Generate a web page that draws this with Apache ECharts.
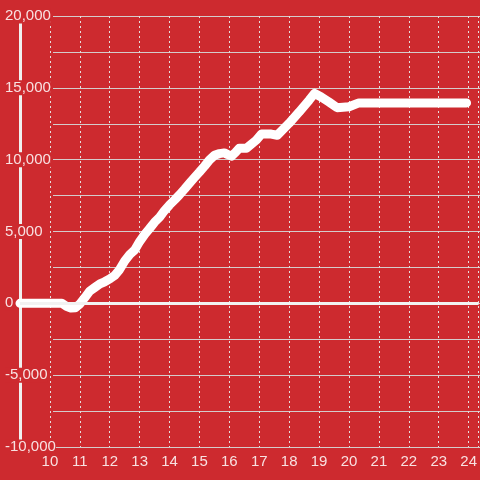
<!DOCTYPE html>
<html><head><meta charset="utf-8">
<script src="https://cdn.jsdelivr.net/npm/echarts@6/dist/echarts.min.js"></script>
<style>html,body{margin:0;padding:0;background:#cd2a2f}#c{width:480px;height:480px}</style>
</head><body><div id="c"></div>
<script>
const hours = [9, 10, 10.4, 10.55, 10.7, 10.85, 11, 11.17, 11.33, 11.5, 11.67, 11.83, 12, 12.17, 12.33, 12.5, 12.67, 12.83, 13, 13.17, 13.33, 13.5, 13.67, 13.83, 14, 14.17, 14.33, 14.5, 14.67, 14.83, 15, 15.17, 15.33, 15.5, 15.67, 15.83, 15.95, 16.07, 16.2, 16.33, 16.57, 16.9, 17.07, 17.4, 17.6, 18, 18.33, 18.67, 18.85, 19.07, 19.33, 19.6, 20, 20.33, 23.93];
const values = [0, 0, 0, -200, -320, -300, -50, 400, 850, 1100, 1350, 1500, 1700, 1950, 2350, 2950, 3400, 3700, 4300, 4800, 5200, 5650, 6000, 6450, 6850, 7200, 7550, 7950, 8370, 8750, 9140, 9550, 9970, 10300, 10420, 10470, 10350, 10250, 10500, 10800, 10800, 11360, 11780, 11780, 11700, 12540, 13310, 14150, 14620, 14360, 14010, 13620, 13680, 13950, 13950];
const xTicks = [10, 11, 12, 13, 14, 15, 16, 17, 18, 19, 20, 21, 22, 23, 24];
const yMin = -10000, yMax = 20000;

const data = hours.map((h, i) => [h, values[i]]);
const txt = 'rgba(255,255,255,0.86)';
const font = 'Liberation Sans, Arial, sans-serif';
const chart = echarts.init(document.getElementById('c'), null, {renderer: 'canvas'});
chart.setOption({
  backgroundColor: '#cd2a2f',
  animation: false,
  grid: [
    {left: 53, right: 0, top: 16, bottom: 33},
    {left: 20, right: 0, top: 16, bottom: 33}
  ],
  xAxis: [
    {gridIndex: 0, type: 'value', min: 9 + 33 / 30, max: 9 + 460 / 30, show: false},
    {gridIndex: 1, type: 'value', min: 9, max: 9 + 460 / 30, interval: 1,
     axisLine: {show: false}, axisTick: {show: false},
     axisLabel: {color: txt, fontSize: 15, fontFamily: font, margin: 7, showMinLabel: false, showMaxLabel: false,
       formatter: v => xTicks.includes(v) ? String(v) : ''},
     splitLine: {show: true, lineStyle: {color: '#e6dede', width: 1, type: [2, 3]}}}
  ],
  yAxis: [
    {gridIndex: 0, type: 'value', min: yMin, max: yMax, interval: 2500,
     axisLine: {show: false}, axisTick: {show: false}, axisLabel: {show: false},
     splitLine: {show: true, lineStyle: {color: '#d4cccc', width: 1}}},
    {gridIndex: 1, type: 'value', min: yMin, max: yMax, interval: 5000, z: 3,
     axisLine: {show: true, lineStyle: {color: '#f0f0f0', width: 3}},
     axisTick: {show: false}, splitLine: {show: false},
     axisLabel: {color: txt, fontSize: 15, fontFamily: font, align: 'left', margin: 15,
       backgroundColor: '#cd2a2f', padding: [0, 0, 0, 0],
       formatter: v => v.toLocaleString('en-US')}}
  ],
  series: [{
    type: 'line', xAxisIndex: 1, yAxisIndex: 1, data: data, showSymbol: false, smooth: false,
    lineStyle: {color: '#ffffff', width: 9, join: 'round', cap: 'round'},
    markLine: {silent: true, symbol: 'none', label: {show: false},
      lineStyle: {color: '#f2f2f2', width: 3, type: 'solid'},
      data: [{yAxis: 0}]}
  }]
});
</script></body></html>
